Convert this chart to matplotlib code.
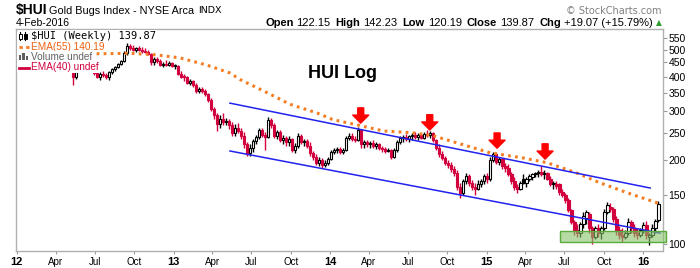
import numpy as np
import pandas as pd
import matplotlib
matplotlib.use('Agg')
import matplotlib.pyplot as plt
from matplotlib.patches import Rectangle
from matplotlib.lines import Line2D

# weekly candles, first bar is the week ending 2012-05-11
first_week = '2012-05-11'
opens = [412, 398, 418, 436, 438, 435, 430, 428, 412, 400, 410, 404, 398, 415, 425, 432, 445, 455, 485, 515,
         508, 500, 505, 500, 495, 490, 482, 452, 462, 455, 440, 445, 442, 448, 436, 438, 410, 400, 398, 380,
         385, 372, 355, 362, 356, 345, 330, 305, 290, 270, 282, 275, 278, 268, 250, 262, 255, 245, 228, 212,
         222, 235, 242, 258, 246, 242, 280, 268, 245, 252, 236, 240, 232, 238, 218, 225, 245, 232, 234, 226,
         212, 205, 196, 200, 192, 196, 202, 215, 218, 220, 214, 218, 240, 244, 238, 236, 258, 228, 232, 229,
         230, 226, 228, 222, 220, 216, 218, 206, 218, 232, 240, 242, 238, 244, 246, 242, 246, 241, 249, 246,
         250, 236, 222, 210, 204, 196, 192, 186, 180, 160, 152, 168, 176, 166, 160, 158, 164, 168, 175, 172,
         200, 210, 198, 202, 190, 188, 178, 168, 160, 158, 172, 166, 172, 174, 178, 180, 182, 178, 180, 172,
         164, 164, 164, 154, 150, 144, 132, 120, 112, 110, 118, 124, 128, 114, 106, 114, 110, 114, 130, 136,
         134, 123, 112, 108, 106, 110, 120, 114, 110, 108, 112, 117, 106, 108, 114, 122.15]
highs = [416, 422, 445, 446, 448, 445, 436, 432, 420, 415, 418, 412, 420, 428, 438, 448, 460, 495, 528, 525,
         518, 512, 515, 512, 508, 500, 485, 470, 472, 462, 452, 458, 455, 452, 445, 440, 418, 408, 402, 392,
         390, 378, 368, 368, 362, 350, 336, 312, 295, 290, 296, 285, 282, 275, 270, 272, 262, 252, 232, 228,
         238, 246, 262, 262, 252, 286, 284, 272, 258, 258, 246, 245, 244, 240, 230, 250, 248, 238, 238, 232,
         216, 210, 206, 204, 200, 205, 218, 222, 224, 224, 222, 245, 250, 250, 244, 264, 260, 236, 236, 234,
         236, 232, 230, 226, 224, 222, 220, 222, 236, 244, 246, 248, 246, 250, 252, 250, 250, 252, 256, 254,
         252, 238, 228, 216, 208, 200, 198, 190, 184, 166, 172, 180, 178, 170, 166, 170, 172, 178, 180, 205,
         215, 212, 206, 204, 196, 194, 182, 174, 164, 168, 178, 174, 178, 180, 182, 184, 190, 184, 182, 176,
         168, 168, 166, 158, 152, 146, 134, 122, 118, 120, 130, 132, 130, 116, 116, 118, 116, 134, 142, 140,
         136, 126, 116, 114, 112, 124, 122, 118, 114, 114, 120, 121, 110, 118, 123, 142.23]
lows = [373, 392, 416, 428, 428, 426, 426, 405, 396, 390, 398, 392, 388, 410, 418, 428, 440, 450, 480, 500,
        495, 490, 495, 488, 485, 478, 440, 440, 448, 436, 432, 438, 435, 432, 425, 405, 395, 385, 375, 372,
        366, 350, 350, 348, 340, 325, 300, 282, 255, 262, 268, 268, 260, 245, 245, 250, 238, 222, 207, 208,
        215, 228, 238, 242, 218, 240, 262, 240, 238, 232, 228, 226, 226, 214, 212, 222, 228, 226, 222, 208,
        200, 193, 190, 188, 189, 192, 200, 210, 212, 210, 210, 216, 236, 234, 232, 234, 222, 222, 224, 222,
        222, 220, 218, 214, 212, 214, 202, 204, 214, 228, 232, 234, 232, 236, 238, 236, 238, 238, 242, 240,
        232, 218, 206, 200, 192, 188, 182, 175, 156, 146, 150, 164, 162, 156, 150, 156, 160, 164, 166, 168,
        198, 194, 192, 186, 182, 176, 164, 156, 152, 156, 164, 160, 168, 170, 174, 174, 176, 172, 170, 162,
        158, 158, 150, 148, 140, 130, 118, 108, 106, 106, 114, 118, 110, 100, 104, 106, 104, 112, 128, 130,
        120, 108, 104, 102, 104, 108, 110, 106, 104, 106, 110, 104, 99, 106, 110, 120.19]
closes = [398, 418, 436, 438, 435, 430, 428, 412, 400, 410, 404, 398, 415, 425, 432, 445, 455, 485, 515, 508,
          500, 505, 500, 495, 490, 482, 452, 462, 455, 440, 445, 442, 448, 436, 438, 410, 400, 398, 380, 385,
          372, 355, 362, 356, 345, 330, 305, 290, 270, 282, 275, 278, 268, 250, 262, 255, 245, 228, 212, 222,
          235, 242, 258, 246, 242, 280, 268, 245, 252, 236, 240, 232, 238, 218, 225, 245, 232, 234, 226, 212,
          205, 196, 200, 192, 196, 202, 215, 218, 220, 214, 218, 240, 244, 238, 236, 258, 228, 232, 229, 230,
          226, 228, 222, 220, 216, 218, 206, 218, 232, 240, 242, 238, 244, 246, 242, 246, 241, 249, 246, 250,
          236, 222, 210, 204, 196, 192, 186, 180, 160, 152, 168, 176, 166, 160, 158, 164, 168, 175, 172, 200,
          210, 198, 202, 190, 188, 178, 168, 160, 158, 166, 166, 172, 176, 178, 180, 182, 178, 180, 172, 164,
          166, 162, 154, 150, 144, 132, 120, 112, 110, 118, 126, 130, 114, 106, 114, 110, 114, 130, 138, 134,
          123, 112, 108, 106, 110, 120, 114, 110, 108, 112, 117, 108, 108, 114, 120.80, 139.87]

# EMA(55)
ema_dates = ['2012-07-05', '2012-09-20', '2012-11-13', '2013-01-15', '2013-03-19', '2013-05-12',
             '2013-06-05', '2013-08-07', '2013-09-29', '2013-12-01', '2014-01-07', '2014-03-05',
             '2014-05-05', '2014-07-13', '2014-08-29', '2014-11-05', '2015-01-08', '2015-03-26',
             '2015-05-22', '2015-07-30', '2015-09-22', '2015-11-24', '2016-02-05']
ema_values = [483, 485, 480, 467, 440, 412, 390, 350, 318, 296, 280, 268,
              255, 251, 245, 228, 213, 204, 196, 180, 166, 153, 140.19]

upper_dates = ['2013-05-12', '2016-01-17']
upper_values = [321, 159]
lower_dates = ['2013-05-12', '2016-02-09']
lower_values = [216, 109.5]

arrow_dates = ['2014-03-13', '2014-08-21', '2015-01-25', '2015-05-17']
arrow_values = [272, 257, 221, 202]

box_dates = ['2015-06-21', '2016-02-23']
box_values = [101.7, 111.4]

price_ticks = [100, 150, 200, 250, 300, 350, 400, 450, 500, 550]
tick_dates = pd.date_range('2012-01-01', '2016-01-01', freq='QS')

W, H = 700, 268
UP = '#000000'
DOWN = '#d2003c'
SANS = 'Liberation Sans'


def px(x, y):
    return x / W, 1 - y / H


fig = plt.figure(figsize=(7, 2.68), dpi=100)
ax = fig.add_axes([16 / W, 1 - 251 / H, 647 / W, 222 / H])

dates = pd.date_range(first_week, periods=len(closes), freq='W-FRI')
o = np.array(opens, float)
h = np.array(highs, float)
l = np.array(lows, float)
c = np.array(closes, float)
prev = np.concatenate([[o[0]], c[:-1]])
colors = np.where(c < prev, DOWN, UP)
hollow = c >= o

ax.vlines(dates, l, h, colors=colors, linewidth=1.0, zorder=2)
body_w = pd.Timedelta(days=6)
for d, oo, cc, col, hol in zip(dates, o, c, colors, hollow):
    lo, hi = min(oo, cc), max(oo, cc)
    if hi / lo < 1.008:
        hi = lo * 1.008
    ax.add_patch(Rectangle((d - body_w / 2, lo), body_w, hi - lo,
                           facecolor='white' if hol else col, edgecolor=col,
                           linewidth=0.8, zorder=3))

# EMA(55)
ax.plot(pd.to_datetime(ema_dates), ema_values, color='#f57c20', linewidth=2.2,
        linestyle=(0, (0.9, 1.4)), zorder=4)

# trend channel
ax.plot(pd.to_datetime(upper_dates), upper_values, color='#2222ee', linewidth=1.1, zorder=5)
ax.plot(pd.to_datetime(lower_dates), lower_values, color='#2222ee', linewidth=1.1, zorder=5)

# support zone
bd = pd.to_datetime(box_dates)
ax.add_patch(Rectangle((bd[0], box_values[0]), bd[1] - bd[0], box_values[1] - box_values[0],
                       facecolor='#86c46a', alpha=0.6, edgecolor='none', zorder=6, clip_on=False))
ax.add_patch(Rectangle((bd[0], box_values[0]), bd[1] - bd[0], box_values[1] - box_values[0],
                       facecolor='none', edgecolor='#5aaa3c', linewidth=1.0, zorder=6, clip_on=False))

# red arrows at the channel touches
for d, v in zip(pd.to_datetime(arrow_dates), arrow_values):
    ax.annotate('', xy=(d, v), xytext=(0, 11), textcoords='offset points',
                arrowprops=dict(facecolor='#ff0000', edgecolor='#ff0000', width=4.3,
                                headwidth=11.5, headlength=5.8, shrink=0), zorder=7)

ax.text(0.505, 0.80, 'HUI Log', transform=ax.transAxes, fontsize=13, fontweight='bold',
        family=SANS, ha='center', va='center')

ax.set_yscale('log')
ax.set_ylim(94.4, 593)
ax.set_xlim(pd.Timestamp('2011-12-30'), pd.Timestamp('2016-02-16'))

ax.yaxis.tick_right()
ax.set_yticks(price_ticks)
ax.set_yticklabels([str(t) for t in price_ticks])
ax.yaxis.set_minor_locator(matplotlib.ticker.NullLocator())
ax.tick_params(axis='y', length=3, width=0.8, color='#999999', pad=1, labelsize=7.5)

ax.set_xticks(tick_dates)
ax.set_xticklabels([d.strftime('%y') if d.month == 1 else d.strftime('%b') for d in tick_dates])
ax.tick_params(axis='x', length=2, width=0.8, color='#999999', pad=2, labelsize=7)
for lab, d in zip(ax.get_xticklabels(), tick_dates):
    lab.set_family(SANS)
    if d.month == 1:
        lab.set_fontweight('bold')
        lab.set_fontsize(8)
for lab in ax.get_yticklabels():
    lab.set_family(SANS)

for side in ['left', 'right', 'top', 'bottom']:
    ax.spines[side].set_color('#b0b0b0')
    ax.spines[side].set_linewidth(1.0)
ax.spines['bottom'].set_linestyle((0, (1, 1)))

# legend inside the plot (white backed, hides what is under it)
leg_rows = [('$HUI (Weekly) 139.87', '#000000', 36, 'DejaVu Sans Mono', 7.5),
            ('EMA(55) 140.19', '#f06010', 46.5, SANS, 7.2),
            ('Volume undef', '#606060', 57, SANS, 7.2),
            ('EMA(40) undef', '#d2003c', 67.5, SANS, 7.2)]
for txt, col, y, fam, size in leg_rows:
    fig.text(*px(31, y), txt, color=col, fontsize=size, family=fam, va='center', ha='left',
             zorder=10, bbox=dict(facecolor='white', edgecolor='none', pad=0.6))
fig.patches.append(Rectangle(px(17, 72), 15 / W, 40 / H, transform=fig.transFigure,
                             facecolor='white', edgecolor='none', zorder=9))
# icons
fig.add_artist(Line2D([20 / W, 20 / W], [px(0, 32)[1], px(0, 40)[1]], color='black', lw=0.8, zorder=11))
fig.patches.append(Rectangle(px(19, 39), 2.5 / W, 5 / H, transform=fig.transFigure,
                             facecolor='white', edgecolor='black', lw=0.7, zorder=11))
fig.add_artist(Line2D([25 / W, 25 / W], [px(0, 32)[1], px(0, 40)[1]], color='black', lw=0.8, zorder=11))
fig.patches.append(Rectangle(px(24, 39), 2.5 / W, 5 / H, transform=fig.transFigure,
                             facecolor='black', edgecolor='black', lw=0.7, zorder=11))
fig.add_artist(Line2D([19 / W, 29 / W], [px(0, 47)[1]] * 2, color='#f57c20', lw=2.0,
                      linestyle=(0, (1.2, 1.2)), zorder=11))
for k, hgt in enumerate([5, 7, 4]):
    fig.patches.append(Rectangle(px(19 + 3.3 * k, 60), 2.4 / W, hgt / H, transform=fig.transFigure,
                                 facecolor='#606060', edgecolor='none', zorder=11))
fig.add_artist(Line2D([19 / W, 29 / W], [px(0, 68)[1]] * 2, color='#d2003c', lw=2.0, zorder=11))

# header
fig.text(*px(16, 10), '$HUI', fontsize=10, fontweight='bold', family=SANS, va='center')
fig.text(*px(49, 10.5), 'Gold Bugs Index - NYSE Arca', fontsize=7.8, family=SANS, va='center')
fig.text(*px(198, 10.5), 'INDX', fontsize=6.8, family='DejaVu Sans', va='center')
fig.text(*px(16, 23.5), '4-Feb-2016', fontsize=7.5, family=SANS, va='center')
fig.text(*px(662, 11), '\u00a9 StockCharts.com', fontsize=7, family='DejaVu Sans', color='#808080',
         va='center', ha='right')

renderer = fig.canvas.get_renderer()
segments = [('Open', 'bold'), ('122.15', 'normal'), ('High', 'bold'), ('142.23', 'normal'),
            ('Low', 'bold'), ('120.19', 'normal'), ('Close', 'bold'), ('139.87', 'normal'),
            ('Chg', 'bold'), ('+19.07 (+15.79%)', 'normal')]
x = 265
for k, (txt, wt) in enumerate(segments):
    t = fig.text(*px(x, 23.5), txt, fontsize=8, fontweight=wt, family=SANS, va='center')
    bb = t.get_window_extent(renderer)
    x = bb.x1 + (3 if wt == 'bold' else 5)
fig.text(*px(x - 2, 23), '\u25b2', fontsize=5.5, family='DejaVu Sans', color='#2e9e2e', va='center')

fig.savefig('out.png', dpi=100, facecolor='white')
